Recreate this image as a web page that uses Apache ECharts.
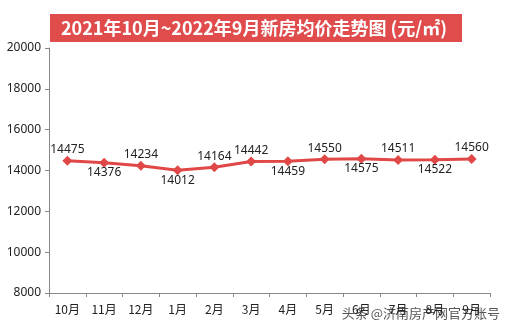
<!DOCTYPE html>
<html><head><meta charset="utf-8">
<script src="https://cdn.jsdelivr.net/npm/echarts@6/dist/echarts.min.js"></script>
<style>html,body{margin:0;padding:0;background:#fff}#c{width:510px;height:330px}</style>
</head><body><div id="c"></div>
<script>
const categories = ['10月','11月','12月','1月','2月','3月','4月','5月','6月','7月','8月','9月'];
const prices = [14475,14376,14234,14012,14164,14442,14459,14550,14575,14511,14522,14560];
const labelSide = ['top','bottom','top','bottom','top','top','bottom','top','bottom','top','bottom','top'];
const yTicks = [8000,10000,12000,14000,16000,18000,20000];
const titleText = '2021年10月~2022年9月新房均价走势图 (元/㎡)';
const sourceText = '头条 @济南房产网官方账号';

const chart = echarts.init(document.getElementById('c'));
chart.setOption({
  animation:false,
  backgroundColor:'#fff',
  grid:{left:49,right:20,top:48,bottom:37},
  xAxis:{type:'category',data:categories,boundaryGap:true,
    axisLine:{lineStyle:{color:'#888'}},
    axisTick:{show:true,alignWithLabel:false,length:4,lineStyle:{color:'#888'}},
    axisLabel:{color:'#222',fontSize:12,margin:10,fontFamily:'Noto Sans CJK SC'}},
  yAxis:{type:'value',min:yTicks[0],max:yTicks[yTicks.length-1],interval:2000,
    axisLine:{show:true,lineStyle:{color:'#888'}},
    axisTick:{show:true,length:4,lineStyle:{color:'#888'}},
    splitLine:{show:false},
    axisLabel:{color:'#222',fontSize:12,margin:8,fontFamily:'Noto Sans',formatter:v=>String(v)}},
  series:[{type:'line',
    data:prices.map((v,i)=>({value:v,label:{position:labelSide[i],distance:labelSide[i]==='top'?0:-1}})),
    symbol:'diamond',symbolSize:10,
    lineStyle:{color:'#e04848',width:3},
    itemStyle:{color:'#e04848'},
    label:{show:true,color:'#222',fontSize:12,fontFamily:'Noto Sans'}}],
  graphic:[
    {type:'rect',shape:{x:50,y:14,width:412,height:28},style:{fill:'#e04c4c'}},
    {type:'text',x:254,y:28,style:{text:titleText,fill:'#fff',fontSize:18,fontWeight:'bold',
      fontFamily:'Noto Sans CJK SC',align:'center',verticalAlign:'middle'}},
    {type:'text',x:500,y:313,style:{text:sourceText,fill:'#555',fontSize:13,
      fontFamily:'Noto Sans CJK SC',align:'right',verticalAlign:'middle'}}
  ]
});
</script></body></html>
